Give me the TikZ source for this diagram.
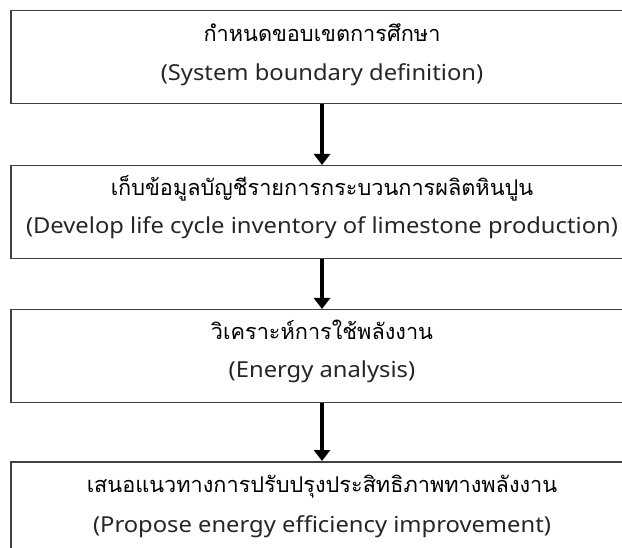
\documentclass[tikz,border=0pt]{standalone}
\usepackage{fontspec}
\setmainfont{Noto Sans}[FakeStretch=1.08]
\newfontfamily\thaifont[Script=Thai]{Loma}
\usetikzlibrary{arrows.meta}
\tikzset{
  stagebox/.style={draw=black!75, line width=1.5pt, fill=white, minimum width=622pt,
    minimum height=93pt, inner sep=0pt, anchor=north},
  thaitext/.style={anchor=base, inner sep=0pt, font=\thaifont\fontsize{21.7}{26}\selectfont},
  engtext/.style={anchor=base, inner sep=0pt, font=\fontsize{22}{26}\selectfont, text=black!85},
  flowarrow/.style={line width=3.3pt, -{Triangle[width=16pt,length=11pt]}},
}
\begin{document}
\begin{tikzpicture}[x=1pt,y=-1pt]
\useasboundingbox (0,0) rectangle (622,548);
\clip (0,0) rectangle (622,548);
\fill[white] (0,0) rectangle (622,548);
\node[stagebox] (b1) at (322,10) {};
\node[thaitext] (t1) at (322,42) {กำหนดขอบเขตการศึกษา};
\node[engtext] (e1) at (322,81) {(System boundary definition)};
\node[stagebox] (b2) at (322,165) {};
\node[thaitext] (t2) at (322,196) {เก็บข้อมูลบัญชีรายการกระบวนการผลิตหินปูน};
\node[engtext] (e2) at (322,234) {(Develop life cycle inventory of limestone production)};
\node[stagebox] (b3) at (322,309) {};
\node[thaitext] (t3) at (322,340) {วิเคราะห์การใช้พลังงาน};
\node[engtext] (e3) at (322,378) {(Energy analysis)};
\node[stagebox] (b4) at (322,461) {};
\node[thaitext] (t4) at (322,492) {เสนอแนวทางการปรับปรุงประสิทธิภาพทางพลังงาน};
\node[engtext] (e4) at (322,532) {(Propose energy efficiency improvement)};
\draw[flowarrow] (b1.south) -- (b2.north);
\draw[flowarrow] (b2.south) -- (b3.north);
\draw[flowarrow] (b3.south) -- (b4.north);
\end{tikzpicture}
\end{document}
